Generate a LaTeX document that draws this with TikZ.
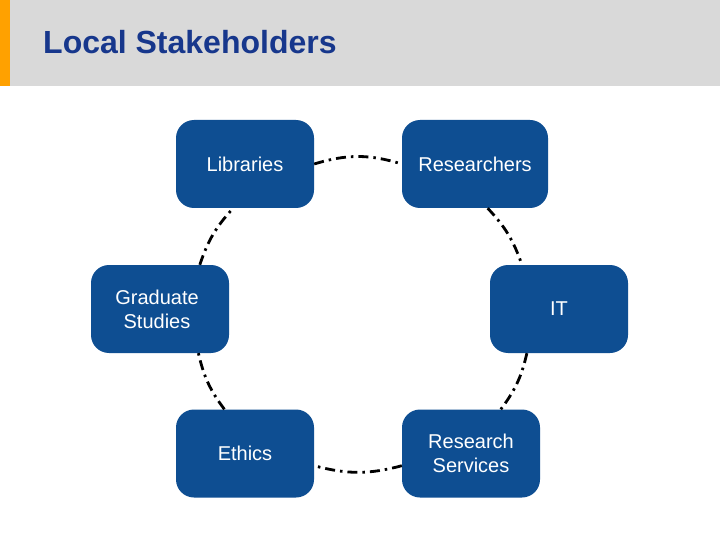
\documentclass[tikz,border=0pt]{standalone}
\usepackage{fontspec}
\setmainfont{Liberation Sans}
\definecolor{hdrgray}{RGB}{217,217,217}
\definecolor{hdrorange}{RGB}{255,161,0}
\definecolor{titleblue}{RGB}{23,55,140}
\definecolor{boxblue}{RGB}{14,78,146}
\tikzset{
  box/.style={draw=none, fill=boxblue, rounded corners=18pt, text=white, align=center,
    minimum width=138pt, minimum height=88pt, inner sep=0pt,
    font=\fontsize{20}{24}\selectfont},
  conn/.style={black, line width=2.8pt, dash pattern=on 10pt off 5pt on 2.5pt off 5pt}
}
\begin{document}
\begin{tikzpicture}[x=1pt,y=-1pt]
\useasboundingbox (0,0) rectangle (720,540);
\fill[white] (0,0) rectangle (720,540);
\fill[hdrgray] (0,0) rectangle (720,86);
\fill[hdrorange] (0,0) rectangle (10,86);
\node[anchor=base west, inner sep=0pt, text=titleblue, font=\fontsize{32}{38}\selectfont\bfseries] (title) at (43,54) {Local Stakeholders};

\node[box] (lib) at (245,164) {Libraries};
\node[box, minimum width=146pt] (res) at (475,164) {Researchers};
\node[box] (grad) at (160,309) {\hspace*{-6pt}Graduate\\\hspace*{-6pt}Studies};
\node[box] (it) at (559,309) {IT};
\node[box] (eth) at (245,453.5) {Ethics};
\node[box] (rs) at (471,453.5) {Research\\Services};

\draw[conn] (lib.east) to[bend left=17] (res.west);
\draw[conn] (res.-74) to[bend left=12] (it.130);
\draw[conn] (it.-126) to[bend left=12] (rs.56);
\draw[conn] (rs.190) to[bend left=15] (eth.-10);
\draw[conn] (eth.115) to[bend left=12] (grad.-49);
\draw[conn] (grad.48) to[bend left=12] (lib.-105);
\end{tikzpicture}
\end{document}
